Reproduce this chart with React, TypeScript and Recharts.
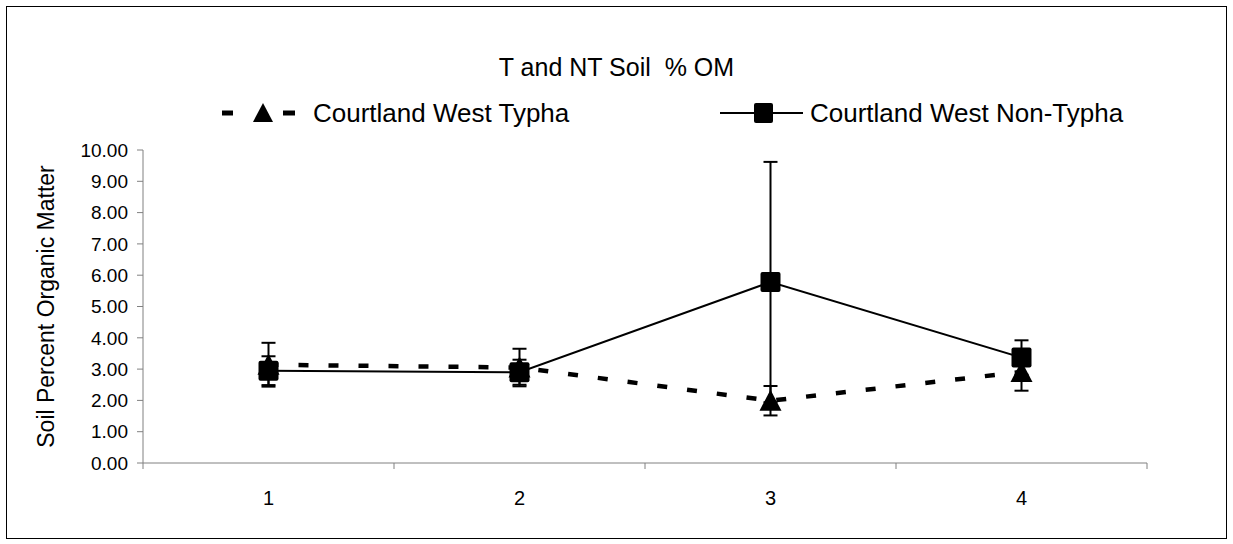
import { LineChart, Line, XAxis, YAxis, ErrorBar, Legend } from 'recharts';

const categories = [1, 2, 3, 4];
const typha = [3.14, 3.05, 1.99, 2.91];
const typhaErr = [0.7, 0.6, 0.47, 0.6];
const nonTypha = [2.95, 2.9, 5.78, 3.37];
const nonTyphaErr = [0.46, 0.4, 3.84, 0.55];
const yTicks = [0, 1, 2, 3, 4, 5, 6, 7, 8, 9, 10];
const bandEdges = [0.5, 1.5, 2.5, 3.5, 4.5];

const data = categories.map((c, i) => ({
  x: c,
  typha: typha[i],
  typhaErr: typhaErr[i],
  nonTypha: nonTypha[i],
  nonTyphaErr: nonTyphaErr[i],
}));

const FONT = '"Liberation Sans", Arial, sans-serif';
const AXIS = '#808080';

function TriangleDot(props: any) {
  const { cx, cy, index } = props;
  if (cx == null || cy == null) return <g key={`t-${index}`} />;
  return <path key={`t-${index}`} d={`M${cx},${cy - 11} L${cx + 11},${cy + 10} L${cx - 11},${cy + 10} Z`} fill="#000" />;
}

function SquareDot(props: any) {
  const { cx, cy, index } = props;
  if (cx == null || cy == null) return <g key={`s-${index}`} />;
  return <rect key={`s-${index}`} x={cx - 10} y={cy - 10} width={20} height={20} rx={2} fill="#000" />;
}

function ChartLegend() {
  return (
    <div style={{ position: 'relative', width: 1233, height: 30, fontFamily: FONT, fontSize: 26, lineHeight: '30px', color: '#000' }}>
      <svg style={{ position: 'absolute', left: 220, top: 0 }} width={80} height={30}>
        <line x1={2} y1={15} x2={13} y2={15} stroke="#000" strokeWidth={5} />
        <path d="M43,5 L53,24 L33,24 Z" fill="#000" />
        <line x1={63} y1={15} x2={75} y2={15} stroke="#000" strokeWidth={5} />
      </svg>
      <span style={{ position: 'absolute', left: 313, top: 0, whiteSpace: 'nowrap' }}>Courtland West Typha</span>
      <svg style={{ position: 'absolute', left: 720, top: 0 }} width={84} height={30}>
        <line x1={0} y1={15} x2={83} y2={15} stroke="#000" strokeWidth={2} />
        <rect x={34} y={5} width={19} height={20} rx={2} fill="#000" />
      </svg>
      <span style={{ position: 'absolute', left: 810, top: 0, whiteSpace: 'nowrap' }}>Courtland West Non-Typha</span>
    </div>
  );
}

function YLabel(props: any) {
  const { viewBox } = props;
  const x = viewBox.x + 23;
  const y = viewBox.y + viewBox.height / 2;
  return (
    <text x={x} y={y} transform={`rotate(-90 ${x} ${y})`} textAnchor="middle" dominantBaseline="central"
      fontFamily={FONT} fontSize={23} fill="#000">
      Soil Percent Organic Matter
    </text>
  );
}

export default function App() {
  return (
    <div style={{ position: 'absolute', left: 0, top: 0, width: 1233, height: 544, background: '#fff', fontFamily: FONT }}>
      <LineChart width={1233} height={544} data={data} margin={{ top: 150, right: 86, left: 23, bottom: 23 }}>
        <XAxis xAxisId="edges" type="number" dataKey="x" domain={[0.5, 4.5]} ticks={bandEdges}
          tickFormatter={() => ''} height={8} tickSize={6} stroke={AXIS} />
        <XAxis xAxisId="labels" type="number" dataKey="x" domain={[0.5, 4.5]} ticks={categories}
          axisLine={false} tickLine={false} tickSize={0} tickMargin={20} height={50}
          tick={{ fill: '#000', fontSize: 20, fontFamily: FONT }} />
        <YAxis type="number" domain={[0, 10]} ticks={yTicks} width={120} tickSize={6} tickMargin={9}
          stroke={AXIS} tickFormatter={(v: number) => v.toFixed(2)}
          tick={{ fill: '#000', fontSize: 19, fontFamily: FONT }}
          label={<YLabel />} />
        <Legend layout="horizontal" verticalAlign="middle" align="center"
          wrapperStyle={{ top: 98, left: 0, width: 1233 }} content={() => <ChartLegend />} />
        <Line xAxisId="edges" dataKey="typha" type="linear" stroke="#000" strokeWidth={4.5}
          strokeDasharray="10 20" dot={TriangleDot} activeDot={false} isAnimationActive={false}>
          <ErrorBar dataKey="typhaErr" direction="y" width={7} stroke="#000" strokeWidth={2} />
        </Line>
        <Line xAxisId="edges" dataKey="nonTypha" type="linear" stroke="#000" strokeWidth={2}
          dot={SquareDot} activeDot={false} isAnimationActive={false}>
          <ErrorBar dataKey="nonTyphaErr" direction="y" width={7} stroke="#000" strokeWidth={2} />
        </Line>
      </LineChart>
      <div style={{ position: 'absolute', left: 6, top: 6, width: 1219, height: 531, border: '1px solid #000', pointerEvents: 'none' }} />
      <div style={{ position: 'absolute', left: 0, top: 52, width: 1233, textAlign: 'center', fontSize: 25, lineHeight: '30px', whiteSpace: 'pre', color: '#000' }}>
        T and NT Soil  % OM
      </div>
    </div>
  );
}
